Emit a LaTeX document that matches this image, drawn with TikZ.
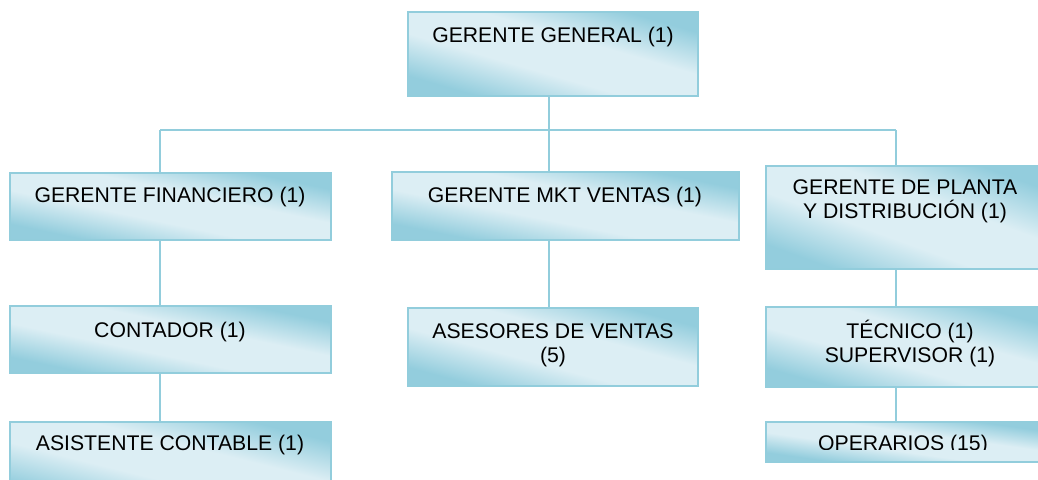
\documentclass[tikz,border=0pt]{standalone}
\usepackage{fontspec}
\setmainfont{Liberation Sans}
\definecolor{bdark}{HTML}{93CDDD}
\definecolor{blight}{HTML}{DCEEF4}
\definecolor{bline}{HTML}{92CDDC}
\pgfdeclarehorizontalshading{boxshade}{100bp}{color(0bp)=(bdark); color(23bp)=(bdark); color(41bp)=(blight); color(59bp)=(blight); color(77bp)=(bdark); color(100bp)=(bdark)}
\tikzset{
  orgframe/.style={draw=bline, line width=1.2pt, inner sep=0pt},
  orgtext/.style={font=\fontsize{15.9}{18}\selectfont, align=center, inner sep=0pt, text=black},
  conn/.style={draw=bline, line width=1.5pt}
}
% name, x1, y1, x2, y2 (pixels, y downward)
\newcommand{\orgboxdraw}[5]{%
  \begin{scope}[transform canvas={shift={(#2,#3)}, xscale=#4-#2, yscale=#5-#3}]
    \shade[shading=boxshade, shading angle=45] (0,0) rectangle (1,1);
  \end{scope}
  \node[orgframe, minimum width={(#4-#2)*0.75pt}, minimum height={(#5-#3)*0.75pt}] (#1) at ({(#2+#4)/2},{(#3+#5)/2}) {};
}
\begin{document}
\begin{tikzpicture}[x=0.75pt,y=-0.75pt]
\useasboundingbox (0,0) rectangle (1038,479);
\clip (0,0) rectangle (1038,479);
% boxes
\orgboxdraw{gg}{408}{12}{698}{96}
\orgboxdraw{gf}{10}{173}{331}{240}
\orgboxdraw{mkt}{392}{172}{739}{240}
\orgboxdraw{pl}{766}{166}{1050}{269}
\orgboxdraw{ct}{10}{306}{331}{373}
\orgboxdraw{as}{408}{308}{698}{386}
\orgboxdraw{tc}{766}{307}{1050}{387}
\orgboxdraw{ac}{10}{422}{331}{502}
\orgboxdraw{op}{766}{422}{1050}{462}
% texts
\node[orgtext] (ggt) at (553,37) {GERENTE GENERAL (1)};
\node[orgtext] (gft) at (170,197) {GERENTE FINANCIERO (1)};
\node[orgtext] (mktt) at (565,197) {GERENTE MKT VENTAS (1)};
\node[orgtext] (plt) at (905,201) {GERENTE DE PLANTA\\Y DISTRIBUCIÓN (1)};
\node[orgtext] (ctt) at (170,332) {CONTADOR (1)};
\node[orgtext] (ast) at (553,345) {ASESORES DE VENTAS\\(5)};
\node[orgtext] (tct) at (910,343.5) {TÉCNICO (1)\\SUPERVISOR (1)};
\node[orgtext] (act) at (170,445) {ASISTENTE CONTABLE (1)};
\begin{scope}
\clip (760,430) rectangle (1038,449.5);
\node[orgtext] (opt) at (903,445) {OPERARIOS (15)};
\end{scope}
% bus coordinates
\coordinate (busL) at (160,130);
\coordinate (busM) at (549,130);
\coordinate (busR) at (896,130);
% connectors
\draw[conn] (gg.south -| busM) -- (busM);
\draw[conn] (busL) -- (busR);
\draw[conn] (busL) -- (busL |- gf.north);
\draw[conn] (busM) -- (busM |- mkt.north);
\draw[conn] (busR) -- (busR |- pl.north);
\draw[conn] (gf.south -| busL) -- (ct.north -| busL);
\draw[conn] (ct.south -| busL) -- (ac.north -| busL);
\draw[conn] (mkt.south -| busM) -- (as.north -| busM);
\draw[conn] (pl.south -| busR) -- (tc.north -| busR);
\draw[conn] (tc.south -| busR) -- (op.north -| busR);
\end{tikzpicture}
\end{document}
